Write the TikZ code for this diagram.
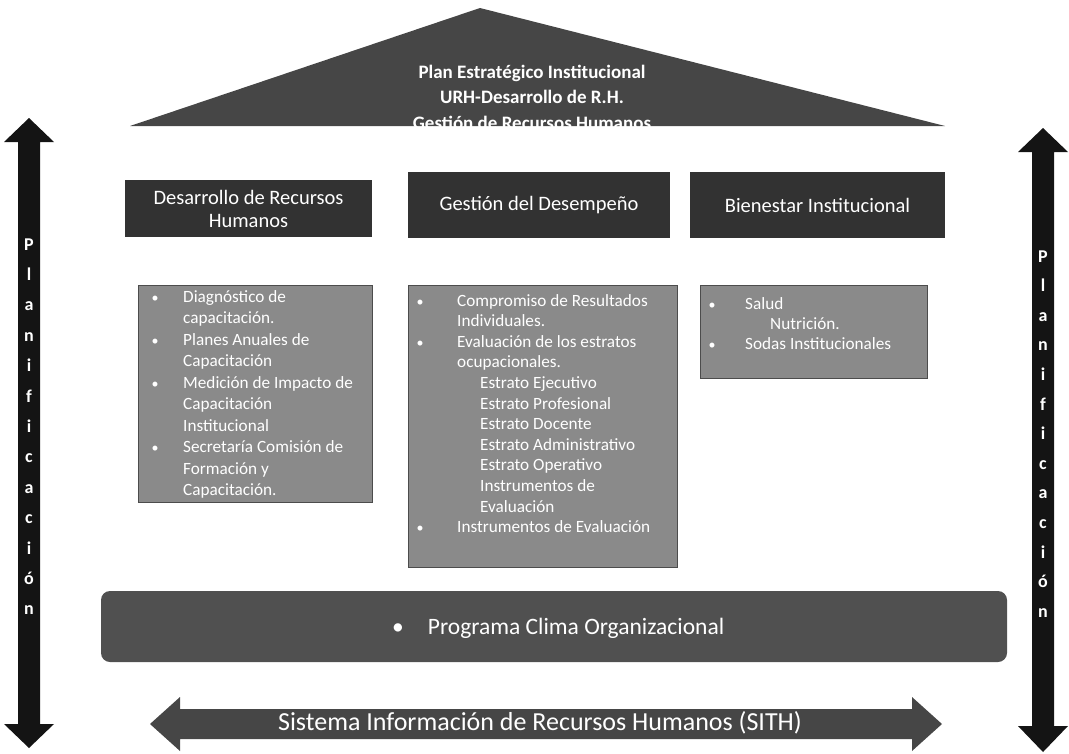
\documentclass[tikz,border=0pt]{standalone}
\usepackage{fontspec}
\setmainfont{Carlito}
\definecolor{techo}{RGB}{70,70,70}
\definecolor{cabeza}{RGB}{50,50,50}
\definecolor{lista}{RGB}{138,138,138}
\definecolor{clima}{RGB}{80,80,80}
\definecolor{flecha}{RGB}{20,20,20}
\tikzset{
  titulo/.style={fill=cabeza, text=white, align=center, inner sep=0pt,
    font=\fontsize{20.5}{23}\selectfont},
  item/.style={anchor=base west, text=white, inner sep=0pt,
    font=\fontsize{17.2}{18}\selectfont},
  punto/.style={anchor=base, text=white, inner sep=0pt,
    font=\fontsize{14}{15}\selectfont},
  letra/.style={anchor=base, text=white, inner sep=0pt,
    font=\fontsize{18}{18}\selectfont\bfseries},
  frente/.style={anchor=base, text=white, inner sep=0pt,
    font=\fontsize{19}{20}\selectfont\bfseries}
}

\begin{document}
\begin{tikzpicture}[x=1pt,y=-1pt]
    \useasboundingbox (0,0) rectangle (1069,753);
    % techo
    \fill[techo] (130,126)--(480,8)--(945,126)--cycle;
    \node[frente] (plan) at (532,78) {Plan Estratégico Institucional};
    \node[frente] (urh) at (532,103) {URH-Desarrollo de R.H.};
    \node[frente] (gestion) at (532,129) {Gestión de Recursos Humanos};
    % flechas de planificacion
    \fill[flecha] (29,118)--(54,142)--(40,142)--(40,724)--(54,724)--(29,748)
      --(4,724)--(18,724)--(18,142)--(4,142)--cycle;
    \fill[flecha] (1043,128)--(1068,152)--(1054,152)--(1054,726)--(1068,726)--(1043,752)
      --(1018,726)--(1032,726)--(1032,152)--(1018,152)--cycle;
    \foreach \l [count=\i from 0] in {P,l,a,n,i,f,i,c,a,c,i,ó,n}{
      \node[letra] (izq\i) at (29,250+30.4*\i) {\l};
      \node[letra] (der\i) at (1043,262+29.6*\i) {\l};
    }
    % tres pilares
    \node[titulo, minimum width=247, minimum height=57] (desarrollo) at (248.5,208.5) {Desarrollo de Recursos\\Humanos};
    \node[titulo, minimum width=262, minimum height=66] (desempeno) at (539,205) {Gestión del Desempeño};
    \node[titulo, minimum width=255, minimum height=66] (bienestar) at (817.5,205) {Bienestar Institucional};
    % listas
    \filldraw[fill=lista, draw=black!70] (138,285) rectangle (372,502);
    \filldraw[fill=lista, draw=black!70] (408,285) rectangle (677,567);
    \filldraw[fill=lista, draw=black!70] (700,285) rectangle (927,378);
    \foreach \dx/\t [count=\i from 0] in {0/Diagnóstico de, 0/capacitación., 0/Planes Anuales de,
      0/Capacitación, 0/Medición de Impacto de, 0/Capacitación, 0/Institucional,
      0/Secretaría Comisión de, 0/Formación y, 0/Capacitación.}
      \node[item] (dr\i) at (183+\dx,302+21.5*\i) {\t};
    \foreach \i in {0,2,4,7}
      \node[punto] (pdr\i) at (155,302+21.5*\i) {\textbullet};
    \foreach \dx/\t [count=\i from 0] in {0/Compromiso de Resultados, 0/Individuales.,
      0/Evaluación de los estratos, 0/ocupacionales., 23/Estrato Ejecutivo,
      23/Estrato Profesional, 23/Estrato Docente, 23/Estrato Administrativo,
      23/Estrato Operativo, 23/Instrumentos de, 23/Evaluación, 0/Instrumentos de Evaluación}
      \node[item] (gd\i) at (457+\dx,306+20.6*\i) {\t};
    \foreach \i in {0,2,11}
      \node[punto] (pgd\i) at (420,306+20.6*\i) {\textbullet};
    \foreach \dx/\t [count=\i from 0] in {0/Salud, 25/Nutrición., 0/Sodas Institucionales}
      \node[item] (bi\i) at (745+\dx,309+20*\i) {\t};
    \foreach \i in {0,2}
      \node[punto] (pbi\i) at (712,309+20*\i) {\textbullet};
    % clima
    \fill[clima, rounded corners=9] (101,591) rectangle (1007,662);
    \node[anchor=base west, text=white, inner sep=0pt, font=\fontsize{23.5}{26}\selectfont] (prog) at (392,634)
      {\textbullet\hspace{24pt}Programa Clima Organizacional};
    % SITH
    \fill[techo] (150,724)--(180,697)--(180,709)--(912,709)--(912,697)--(942,724)
      --(912,751)--(912,739)--(180,739)--(180,751)--cycle;
    \node[text=white, font=\fontsize{26}{28}\selectfont, inner sep=0pt] (sith) at (540,723)
      {Sistema Información de Recursos Humanos (SITH)};
\end{tikzpicture}
\end{document}
